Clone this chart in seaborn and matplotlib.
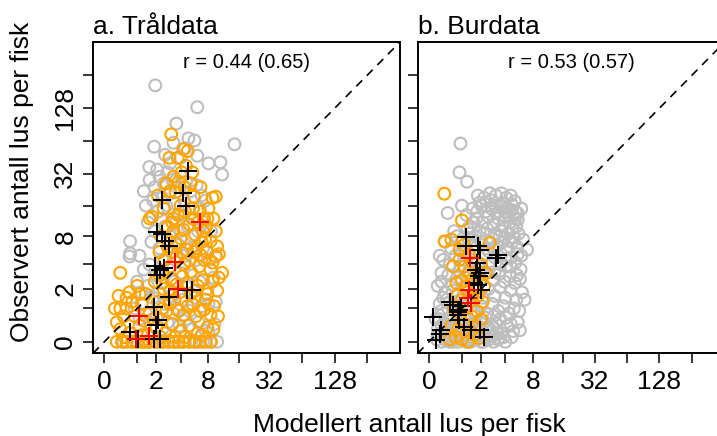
"""Observed vs modelled lice per fish, trawl data and cage data."""

import numpy as np
import pandas as pd
import matplotlib
matplotlib.use("Agg")
import matplotlib.pyplot as plt
import seaborn as sns

sns.set_style("ticks")
plt.rcParams['font.family'] = ['Liberation Sans', 'DejaVu Sans']
plt.rcParams['text.color'] = 'black'
plt.rcParams['xtick.color'] = 'black'
plt.rcParams['ytick.color'] = 'black'

# Tick values and labels (shared by both axes and both panels)
TICKS = [0, 1, 2, 4, 8, 16, 32, 64, 128, 256]
TICK_LABELS = ['0', '', '2', '', '8', '', '32', '', '128', '']

PANEL_TITLES = ['a. Tråldata', 'b. Burdata']
R_TEXTS = ['r = 0.44 (0.65)', 'r = 0.53 (0.57)']
XLABEL = 'Modellert antall lus per fisk'
YLABEL = 'Observert antall lus per fisk'

# ---- Panel a: trawl data (modelled, observed) ----
grey_a = [
    (1.93, 207), (6.1, 131), (3.57, 93), (14.6, 60), (1.86, 57), (4.9, 68),
    (5.7, 65), (6.1, 47), (8.0, 40), (10.6, 41), (11.0, 31.5), (1.58, 37),
    (2.05, 35), (3.0, 40), (4.0, 45), (4.5, 55), (3.3, 62), (2.6, 48),
    (1.3, 22), (1.6, 28), (1.9, 24), (2.2, 30), (2.5, 26), (2.8, 33),
    (3.2, 28), (3.6, 24), (4.1, 30), (4.6, 27), (5.2, 22), (6.0, 25),
    (6.8, 20), (1.4, 16), (1.8, 18), (2.1, 14), (2.4, 19), (2.7, 16),
    (3.0, 21), (3.4, 17), (3.9, 13), (4.4, 18), (5.0, 15), (5.7, 12),
    (6.5, 15), (7.5, 18), (1.5, 11), (1.9, 9), (2.3, 12), (2.6, 10),
    (3.0, 8), (3.5, 11), (4.0, 9), (4.8, 10), (5.5, 8), (6.2, 9),
    (7.2, 11), (8.5, 9), (1.7, 7), (2.2, 6), (2.8, 7.5), (3.3, 5.5),
    (3.8, 6.5), (4.5, 5), (5.2, 6), (6.0, 4.5), (7.0, 6), (8.2, 4.5),
    (9.5, 5), (0.72, 7.1), (0.72, 5.3), (0.7, 4.9), (1.1, 5), (1.3, 3.5),
    (1.6, 4), (2.0, 3), (2.4, 4.5), (2.9, 3.5), (3.4, 2.5), (4.0, 3.2),
    (4.6, 2.2), (5.5, 3), (6.5, 2.5), (7.8, 2), (9.0, 2.8), (1.0, 2.5),
    (1.2, 1.8), (1.5, 2.2), (1.8, 1.5), (2.2, 1.8), (2.6, 1.2), (3.1, 1.6),
    (3.6, 1.0), (4.3, 1.4), (5.0, 0.9), (5.8, 1.5), (6.8, 1.1), (8.0, 1.2),
    (9.5, 1.3), (0.9, 1.0), (1.1, 0.6), (1.4, 0.8), (1.7, 0.4), (2.0, 0.7),
    (2.4, 0.3), (2.8, 0.5), (3.3, 0.8), (3.9, 0.4), (4.6, 0.6), (5.4, 0.3),
    (6.3, 0.5), (7.5, 0.25), (9.2, 0.45), (8.0, 0.2), (0.5, 0), (0.8, 0),
    (1.0, 0), (1.3, 0), (1.6, 0), (2.0, 0), (2.4, 0), (2.9, 0), (3.5, 0),
    (4.2, 0), (5.0, 0), (6.0, 0), (7.0, 0), (8.3, 0), (9.8, 0),
]

orange_a = [
    (3.1, 74), (4.3, 54), (4.8, 52), (2.95, 45), (3.7, 45), (4.1, 33),
    (5.4, 33), (6.6, 24), (3.0, 22), (3.5, 21.5), (5.6, 19.5), (8.8, 19),
    (9.5, 19.5), (1.75, 12.5), (3.3, 12), (5.4, 12), (9.0, 12), (1.6, 12),
    (3.2, 11), (4.3, 9.3), (7.2, 12), (4.0, 16), (6.5, 14), (2.5, 15),
    (3.8, 27), (4.6, 38), (7.5, 10),
    (3.5, 6.8), (4.7, 5.8), (4.0, 7.6), (5.8, 8.3), (8.4, 7.1), (9.8, 6.3),
    (6.6, 5.1), (7.2, 4.5), (9.5, 4.9), (11.0, 3.2), (8.4, 3.5), (2.6, 4.5),
    (3.0, 3.8), (4.4, 4.0), (5.2, 3.3), (6.0, 6.0), (7.4, 7.5), (3.2, 5.5),
    (0.7, 1.8), (1.0, 2.2), (1.4, 1.7), (1.9, 2.5), (2.5, 2.0), (3.1, 2.7),
    (3.9, 1.8), (4.8, 2.4), (5.8, 1.9), (7.0, 2.6), (9.8, 1.9), (0.4, 3.2),
    (2.2, 3.0),
    (0.25, 1.0), (0.4, 1.0), (0.6, 1.0), (0.9, 0.7), (1.2, 1.2), (1.6, 0.8),
    (2.1, 1.3), (2.7, 0.9), (3.4, 1.4), (4.3, 0.75), (5.4, 1.2), (6.6, 0.9),
    (8.4, 0.75), (9.1, 1.1), (7.5, 1.4),
    (0.4, 0.3), (0.7, 0.2), (1.1, 0.4), (1.5, 0.15), (2.0, 0.35), (2.6, 0.2),
    (3.2, 0.45), (4.0, 0.25), (5.0, 0.4), (6.2, 0.2), (7.8, 0.35),
    (0.3, 0), (0.45, 0), (0.6, 0), (0.8, 0), (1.0, 0), (1.2, 0), (1.4, 0),
    (1.6, 0), (1.9, 0), (2.2, 0), (2.5, 0), (2.9, 0), (3.3, 0), (3.8, 0),
    (4.3, 0), (5.0, 0), (5.7, 0), (6.5, 0), (7.5, 0), (8.5, 0),
    (2.3, 8), (2.8, 10), (3.3, 9), (3.7, 13), (4.5, 14), (5.0, 10.5),
    (5.5, 15), (6.2, 11), (7.0, 9), (8.0, 15), (2.2, 5.5), (2.8, 6.2),
    (3.6, 4.8), (4.2, 5.4), (5.0, 4.4), (5.6, 5.5), (6.4, 3.8), (7.7, 5.5),
    (8.8, 4.2), (10.2, 5.2), (2.4, 2.4), (3.0, 1.9), (3.6, 2.3), (4.2, 2.9),
    (5.2, 1.7), (6.2, 2.2), (7.8, 1.7), (8.8, 2.5), (10.2, 2.8), (2.4, 1.0),
    (3.0, 1.2), (3.8, 0.9), (4.8, 1.1), (5.9, 0.7), (7.2, 0.95), (10.0, 0.7),
    (0.3, 0.5), (0.5, 0.7), (0.8, 1.3), (1.1, 1.7), (0.6, 1.5), (0.35, 1.6),
    (1.3, 0.55), (1.8, 0.6), (2.3, 0.6), (9.0, 0.3), (4.5, 0.1), (6.8, 0.15),
    (3.4, 0.1), (2.3, 0.1), (1.2, 0.15), (0.55, 0.1), (9.5, 9), (6.8, 7),
    (7.8, 12), (2.1, 20), (2.7, 26), (3.3, 30), (4.4, 24), (5.2, 26),
]

black_a = [
    (4.8, 34), (4.3, 21), (2.4, 18), (4.6, 15.8), (2.03, 8.9), (2.4, 8.5),
    (2.6, 7.1), (2.9, 6.3), (1.93, 3.8), (2.25, 3.5), (2.5, 3.6), (2.03, 3.0),
    (2.9, 1.56), (4.7, 1.94), (5.4, 1.94), (1.83, 1.08), (2.1, 0.57),
    (2.0, 0.42), (0.72, 0.23), (1.05, 0.07), (1.83, 0.07), (2.25, 0.07),
]

red_a = [
    (6.6, 11), (3.4, 4.3), (3.7, 2.0), (1.06, 0.71), (0.96, 0.07), (1.58, 0.13),
]

# ---- Panel b: cage data (modelled, observed) ----
grey_b = [
    (0.94, 61), (0.9, 33), (1.23, 27), (0.48, 13.6), (1.8, 20), (3.1, 20),
    (4.1, 19), (5.1, 17.6), (6.0, 15), (5.5, 11.7), (6.3, 7.4), (6.9, 5.8),
    (6.5, 1.4), (5.8, 0.27), (2.2, 19), (2.6, 21), (3.6, 21), (4.6, 20),
    (0.7, 9), (0.3, 2.5), (0.25, 5),
    (1.5, 15), (1.9, 17), (2.3, 14), (2.7, 18), (3.0, 16), (3.4, 14),
    (3.8, 17), (4.2, 15), (4.7, 16.5), (5.2, 14), (1.7, 12), (2.1, 11),
    (2.5, 12.5), (2.9, 10.5), (3.3, 12), (3.7, 10), (4.0, 12.5), (4.5, 11),
    (4.9, 13), (5.3, 10), (1.4, 10), (1.9, 9), (2.4, 9.5), (3.1, 8.5),
    (3.6, 9), (4.3, 8.5), (4.8, 9.5), (5.6, 8.5), (1.2, 13), (1.0, 16),
    (0.4, 7), (0.6, 6), (0.8, 8), (1.0, 7), (1.3, 7.5), (1.6, 6.5),
    (2.0, 7), (2.4, 6), (2.8, 7.5), (3.2, 6.5), (3.7, 7), (4.2, 6),
    (4.8, 7), (5.4, 6.2), (6.0, 5), (0.35, 4.5), (0.55, 4), (0.75, 5),
    (1.1, 4.5), (1.4, 5.2), (1.8, 4.2), (2.2, 5), (2.6, 4), (3.0, 4.8),
    (3.5, 4), (4.0, 4.6), (4.6, 3.8), (5.2, 4.2), (5.9, 3.5), (0.3, 3.2),
    (0.5, 3), (0.9, 3.4), (1.2, 2.8), (1.6, 3.3), (2.0, 2.7), (2.4, 3.2),
    (2.9, 2.6), (3.4, 3.1), (3.9, 2.5), (4.5, 2.9), (5.1, 2.4), (5.8, 2.7),
    (0.2, 2.2), (0.4, 1.8), (0.6, 2.3), (0.85, 1.7), (1.1, 2.1), (1.4, 1.6),
    (1.75, 2.2), (2.1, 1.5), (2.5, 2.0), (3.0, 1.6), (3.5, 2.1), (4.0, 1.5),
    (4.6, 1.9), (5.3, 1.4), (6.1, 1.8), (0.25, 1.2), (0.5, 1.0), (0.75, 1.3),
    (1.0, 0.9), (1.3, 1.2), (1.6, 0.85), (2.0, 1.1), (2.4, 0.8), (2.8, 1.2),
    (3.3, 0.9), (3.8, 1.1), (4.4, 0.8), (5.0, 1.0), (5.7, 0.9),
    (0.15, 0.6), (0.3, 0.4), (0.5, 0.55), (0.7, 0.35), (0.95, 0.5), (1.2, 0.3),
    (1.5, 0.45), (1.85, 0.25), (2.2, 0.5), (2.6, 0.3), (3.1, 0.45), (3.6, 0.2),
    (4.2, 0.4), (4.9, 0.25), (5.5, 0.5), (0.2, 0.15), (0.4, 0.05), (0.6, 0.15),
    (0.85, 0), (1.1, 0.1), (1.4, 0), (1.7, 0.12), (2.0, 0), (2.4, 0.1),
    (2.9, 0), (3.4, 0.08), (4.0, 0), (4.7, 0.1), (0.3, 0), (0.55, 0),
    (0.75, 0.08), (1.25, 0.05), (1.55, 0.15), (2.2, 0.18), (2.7, 0.12),
    (3.2, 0.2),
    (0.2, 0.3), (0.35, 0.8), (0.45, 1.4), (0.65, 1.9), (0.8, 2.8), (0.95, 3.8),
    (1.15, 5.5), (1.35, 8.5), (1.55, 11), (1.75, 14), (2.05, 16), (2.35, 17.5),
    (2.75, 15), (3.15, 13.5), (3.55, 16), (3.95, 14), (4.35, 13), (4.75, 14.5),
    (5.15, 12), (5.5, 13.5), (1.25, 9.5), (1.65, 8), (2.15, 8.5), (2.6, 7),
    (3.0, 6), (3.45, 8), (3.9, 7.8), (4.4, 7.2), (5.0, 7.8), (5.5, 5.2),
    (1.0, 5.5), (1.5, 4.5), (2.0, 3.6), (2.5, 5.6), (3.0, 3.3), (3.6, 5.2),
    (4.1, 3.8), (4.7, 4.8), (5.4, 3.0), (1.3, 0.6), (1.7, 0.7), (2.3, 0.65),
    (2.9, 0.7), (3.5, 0.6), (4.1, 0.65), (4.6, 0.45), (0.5, 0.25), (0.9, 0.2),
    (1.45, 0.1), (1.9, 0.35), (0.25, 0.6),
    (0.18, 0.05), (0.45, 0.1), (0.65, 0), (0.95, 0.12), (1.2, 0), (1.6, 0.05),
    (1.85, 0.1), (2.15, 0), (2.55, 0.05), (2.95, 0.15), (3.3, 0.05), (3.8, 0.1),
    (0.3, 0.2), (0.7, 0.25), (1.05, 0.25), (1.35, 0.35), (1.75, 0.3),
    (2.4, 0.35), (2.8, 0.4), (0.4, 0.45), (0.6, 0.65), (0.85, 0.7),
    (1.1, 0.75), (0.3, 0.9), (0.55, 1.3), (0.35, 1.5),
]

orange_b = [
    (0.38, 20.8), (1.0, 11.5), (0.39, 7.1), (0.6, 7.4), (0.91, 5.8),
    (2.6, 6.8), (0.66, 3.8), (0.78, 2.4), (0.55, 0.05), (1.28, 0), (1.9, 0.08),
    (0.9, 4.5), (1.1, 3.8), (1.3, 3.2), (1.5, 4.2), (1.7, 3.0), (1.0, 2.6),
    (1.2, 2.2), (1.45, 2.6), (1.7, 2.0), (1.95, 2.6), (2.2, 2.2), (0.8, 1.6),
    (1.0, 1.4), (1.25, 1.8), (1.5, 1.5), (1.8, 1.6), (2.1, 1.3), (0.7, 1.0),
    (0.95, 0.8), (1.2, 1.0), (1.45, 0.7), (1.75, 0.9), (2.0, 0.6), (0.6, 0.4),
    (0.85, 0.3), (1.1, 0.45), (1.4, 0.25), (1.65, 0.4), (0.75, 0.1),
    (1.0, 0.05), (1.6, 0.15), (1.3, 5.2), (1.1, 6.5), (1.6, 5.5), (2.0, 4.0),
    (2.3, 3.2),
]

black_b = [
    (1.2, 7.9), (1.92, 5.8), (3.15, 4.7), (1.7, 3.5), (1.9, 3.2), (1.8, 2.27),
    (1.6, 2.4), (2.0, 1.94), (0.54, 1.3), (0.65, 1.15), (0.9, 0.94),
    (0.83, 0.75), (0.9, 0.57), (0.09, 0.68), (0.29, 0.28), (0.16, 0.04),
    (1.11, 0.37), (1.43, 0.28), (1.9, 0.28), (2.2, 0.11), (1.19, 6.4),
    (1.8, 6.3), (3.3, 5.1), (0.25, 0.17), (1.85, 2.9), (0.95, 1.1),
    (0.85, 0.85), (1.75, 4.2),
]

red_b = [
    (1.35, 4.7), (1.26, 1.48), (1.43, 1.23), (1.3, 1.94),
]

GREY = '#BEBEBE'
ORANGE = '#FFA500'
FS = 19

panels = [
    (grey_a, orange_a, black_a, red_a),
    (grey_b, orange_b, black_b, red_b),
]


def to_frame(points):
    x, y = zip(*points)
    return pd.DataFrame({'modelled': x, 'observed': y})


fig = plt.figure(figsize=(7.17, 4.36), dpi=100)
ax_w = 307 / 717
ax_h = 311.3 / 436
ax_bottom = (436 - 353.3) / 436
axes = [fig.add_axes([93 / 717, ax_bottom, ax_w, ax_h]),
        fig.add_axes([417.7 / 717, ax_bottom, ax_w, ax_h])]

lim = (np.expm1(-0.24), np.expm1(6.24))

for i, (ax, series) in enumerate(zip(axes, panels)):
    grey, orange, black, red = series
    ax.set_xscale('function', functions=(np.log1p, np.expm1))
    ax.set_yscale('function', functions=(np.log1p, np.expm1))

    for pts, col in [(grey, GREY), (orange, ORANGE)]:
        sns.scatterplot(data=to_frame(pts), x='modelled', y='observed', ax=ax,
                        marker='o', s=72, color=col, facecolor='none',
                        edgecolor=col, linewidth=1.5, legend=False, zorder=2)
    for pts, col in [(black, 'black'), (red, 'red')]:
        sns.scatterplot(data=to_frame(pts), x='modelled', y='observed', ax=ax,
                        marker='+', s=160, color=col, linewidth=1.4,
                        legend=False, zorder=3)

    # 1:1 line
    ax.plot(lim, lim, color='black', lw=1.2, dashes=(5, 4), zorder=4)

    ax.set_xlim(lim)
    ax.set_ylim(lim)
    ax.set_xticks(TICKS)
    ax.set_xticklabels(TICK_LABELS)
    ax.set_yticks(TICKS)
    ax.set_yticklabels(TICK_LABELS if i == 0 else [''] * len(TICKS))
    ax.minorticks_off()
    ax.set_xlabel('')
    ax.set_ylabel('')
    ax.tick_params(length=7.2, width=1.1, labelsize=FS)
    ax.tick_params(axis='x', pad=5)
    ax.tick_params(axis='y', pad=4)
    plt.setp(ax.get_yticklabels(), rotation=90, va='center')
    for sp in ax.spines.values():
        sp.set_linewidth(1.4)
        sp.set_color('black')

    ax.set_title(PANEL_TITLES[i], loc='left', fontsize=FS, pad=6)
    ax.text(0.5, 0.934, R_TEXTS[i], transform=ax.transAxes, ha='center',
            va='center', fontsize=14.5)

fig.text(409 / 717, 4 / 436, XLABEL, ha='center', va='baseline', fontsize=FS)
fig.text(22 / 717, 1 - 181.7 / 436, YLABEL, ha='center', va='center',
         rotation=90, fontsize=FS)

fig.savefig('out.png', dpi=100)
plt.close(fig)
